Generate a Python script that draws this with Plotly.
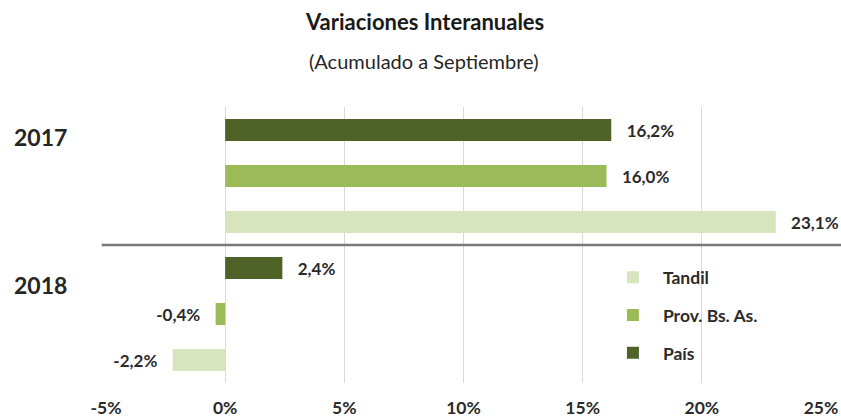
import plotly.graph_objects as go

years = ["2018", "2017"]
series = ["Tandil", "Prov. Bs. As.", "País"]
values = {
    "Tandil": [-2.2, 23.1],
    "Prov. Bs. As.": [-0.4, 16.0],
    "País": [2.4, 16.2],
}
colors = {"Tandil": "#d7e4bd", "Prov. Bs. As.": "#9bbb59", "País": "#4f6228"}
tick_vals = [-5, 0, 5, 10, 15, 20, 25]
tick_text = ["-5%", "0%", "5%", "10%", "15%", "20%", "25%"]

FONT = "Lato"
NB = "\u00a0"
TXT = "#2b2b2b"

def fmt(v):
    s = f"{v:.1f}".replace(".", ",") + "%"
    return (NB * 3 + s) if v >= 0 else (s + NB * 3)

fig = go.Figure()
for i, s in enumerate(series):
    fig.add_trace(go.Bar(
        y=years, x=values[s], name=s, orientation="h",
        marker=dict(color=colors[s], line=dict(width=0)),
        text=[fmt(v) for v in values[s]], textposition="outside",
        textfont=dict(family=FONT, size=17, color=TXT, weight="bold"),
        cliponaxis=False, legendgroup=s, hoverinfo="skip",
    ))

fig.update_layout(
    width=841, height=420,
    margin=dict(l=106, r=20, t=107, b=37, autoexpand=False),
    paper_bgcolor="white", plot_bgcolor="white",
    barmode="group", bargap=0, bargroupgap=0.52,
    showlegend=True,
    legend=dict(x=0.695, y=0.448, xanchor="left", yanchor="top",
                traceorder="grouped", tracegroupgap=12, itemwidth=50,
                font=dict(family=FONT, size=17.5, color=TXT, weight="bold"),
                bgcolor="rgba(0,0,0,0)"),
    xaxis=dict(range=[-5, 25], tickvals=tick_vals, ticktext=tick_text,
               showgrid=True, gridcolor="#d9d9d9", gridwidth=1, zeroline=False,
               showline=False, ticks="", ticklabelstandoff=12, automargin=False,
               tickfont=dict(family=FONT, size=17.5, color=TXT, weight="bold")),
    yaxis=dict(showticklabels=False, showgrid=False, zeroline=False, showline=False,
               categoryorder="array", categoryarray=years, automargin=False),
    font=dict(family=FONT),
)

fig.add_shape(type="line", xref="paper", yref="y", x0=-0.006, x1=1.03, y0=0.5, y1=0.5,
              line=dict(color="#7a7a7a", width=2.5))

for yr, py in zip(["2017", "2018"], [0.891, 0.355]):
    fig.add_annotation(text=f"<b>{yr}</b>", xref="paper", yref="paper", x=-0.092, y=py,
                       xanchor="center", yanchor="middle",
                       showarrow=False, font=dict(family=FONT, size=23, color="#262626"))

fig.add_annotation(text="<b>Variaciones Interanuales</b>", xref="paper", yref="paper",
                   x=0.445, y=1.308, xanchor="center", yanchor="middle", showarrow=False,
                   font=dict(family=FONT, size=22, color="#1a1a1a"))
fig.add_annotation(text="(Acumulado a Septiembre)", xref="paper", yref="paper",
                   x=0.445, y=1.165, xanchor="center", yanchor="middle", showarrow=False,
                   font=dict(family=FONT, size=20, color="#262626"))

fig.write_html("out.html", config={"displayModeBar": False},
               post_script="document.body.style.margin='0';document.body.style.padding='0';"
                           "document.body.style.overflow='hidden';")
